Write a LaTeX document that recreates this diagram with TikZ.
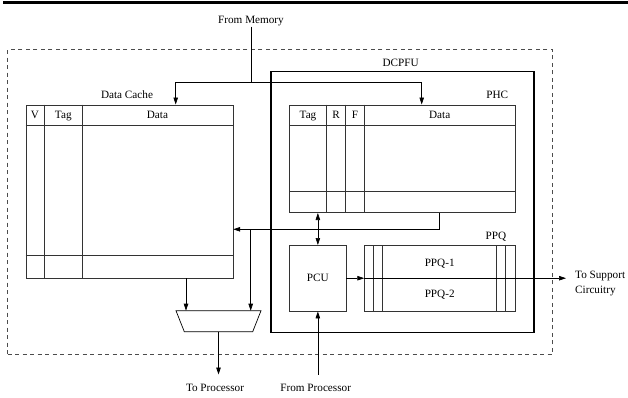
\documentclass[tikz,border=0pt]{standalone}
\usepackage{fontspec}
\setmainfont{Liberation Serif}
\usetikzlibrary{positioning,arrows.meta}

\begin{document}
\begin{tikzpicture}[x=1pt, y=-1pt,
  every node/.style={font=\fontsize{11.2}{13}\selectfont},
  tbl/.style={draw=black!80, line width=0.7pt, anchor=north west, inner sep=0pt},
  unit/.style={draw, line width=1.7pt, anchor=north west, inner sep=0pt},
  region/.style={draw=black!70, line width=0.8pt, dash pattern=on 4pt off 3.5pt, anchor=north west, inner sep=0pt},
  lbl/.style={inner sep=1pt, text height=7.6pt, text depth=2.4pt},
  io/.style={lbl, outer ysep=8pt},
  grid/.style={black!80, line width=0.7pt},
  arr/.style={-{Triangle[length=7pt, width=4.5pt]}, line width=0.7pt},
  dbl/.style={{Triangle[length=7pt, width=4.5pt]}-{Triangle[length=7pt, width=4.5pt]}, line width=0.7pt}
]
  \useasboundingbox (0,0) rectangle (628,397);
  \fill (3,0.6) rectangle (628,3.8);

  % outer boundary and the prefetch unit
  \node[region, minimum width=545pt, minimum height=304.7pt] (chip) at (7.3,49.3) {};
  \node[unit, minimum width=263.3pt, minimum height=261pt] (dcpfu) at (270,70.7) {};
  \node[lbl] (dcpfulbl) at (400.7,63.5) {DCPFU};

  % data cache
  \node[tbl, minimum width=206.8pt, minimum height=173.2pt] (dc) at (25.7,104.5) {};
  \node[lbl] (dclbl) at (127,96) {Data Cache};
  \foreach \y in {125.3,255.7} \draw[grid] (25.7,\y) -- (232.5,\y);
  \foreach \x in {44.3,82.3} \draw[grid] (\x,104.5) -- (\x,277.7);
  \node[lbl] (dcv) at (35,115.5) {V};
  \node[lbl] (dctag) at (63.3,115.5) {Tag};
  \node[lbl] (dcdata) at (157.4,115.5) {Data};

  % prefetch history cache
  \node[tbl, minimum width=225.7pt, minimum height=107.8pt] (phc) at (289.3,104.5) {};
  \node[lbl] (phclbl) at (497.3,96) {PHC};
  \foreach \y in {125.3,191} \draw[grid] (289.3,\y) -- (515,\y);
  \foreach \x in {326.7,345.7,364.3} \draw[grid] (\x,104.5) -- (\x,212.3);
  \node[lbl] (phctag) at (308,115.5) {Tag};
  \node[lbl] (phcr) at (336.2,115.5) {R};
  \node[lbl] (phcf) at (355,115.5) {F};
  \node[lbl] (phcdata) at (439.7,115.5) {Data};

  % control unit and queues
  \node[tbl, minimum width=56.4pt, minimum height=65.7pt] (pcu) at (289.3,245) {PCU};
  \node[tbl, minimum width=150.7pt, minimum height=65.7pt] (ppq) at (364.3,245) {};
  \node[lbl] (ppqlbl) at (496,236.5) {PPQ};
  \foreach \x in {373.3,382.7,496,505.7} \draw[grid] (\x,245) -- (\x,310.7);
  \node[lbl] (ppqa) at (439.7,263.5) {PPQ-1};
  \node[lbl] (ppqb) at (439.7,294.5) {PPQ-2};

  % output multiplexer
  \draw[line width=0.7pt] (176,310.7) -- (261,310.7) -- (252.7,331.7) -- (184.3,331.7) -- cycle;
  \coordinate (muxtop) at (218.5,310.7);
  \coordinate (muxout) at (218.5,331.7);

  % external ports
  \node[lbl] (mem) at (251,20.5) {From Memory};
  \node[io] (tproc) at (215,388.5) {To Processor};
  \node[io] (fproc) at (315.7,388.5) {From Processor};
  \node[inner sep=0pt, inner xsep=9pt, anchor=west, align=left,
        font=\fontsize{11.2}{15.7}\selectfont] (sup) at (566,283.5) {To Support\\Circuitry};

  % fill paths from memory
  \coordinate (memtap) at (251,82);
  \coordinate (dcfill) at (175.7,82);
  \coordinate (phcfill) at (421.7,82);
  \draw[line width=0.7pt] (mem) -- (memtap);
  \draw[arr] (memtap) -- (dcfill) -- (dcfill |- dc.north);
  \draw[arr] (memtap) -- (phcfill) -- (phcfill |- phc.north);

  % write back from PHC
  \coordinate (wb) at (439.3,229.3);
  \coordinate (wbtap) at (250.7,229.3);
  \draw[arr] (phc.south -| wb) -- (wb) -- (wb -| dc.east);
  \draw[arr] (wbtap) -- (wbtap |- muxtop);

  % cache read into the mux
  \coordinate (dcout) at (186,0);
  \draw[arr] (dcout |- dc.south) -- (dcout |- muxtop);
  \draw[arr] (muxout) -- (muxout |- tproc.north);

  \draw[dbl] (pcu.north |- phc.south) -- (pcu.north);
  \draw[arr] (pcu.east) -- (ppq.west);
  \draw[arr] (ppq.west) -- (sup.west |- ppq.west);
  \draw[arr] (pcu.south |- fproc.north) -- (pcu.south);
\end{tikzpicture}
\end{document}
